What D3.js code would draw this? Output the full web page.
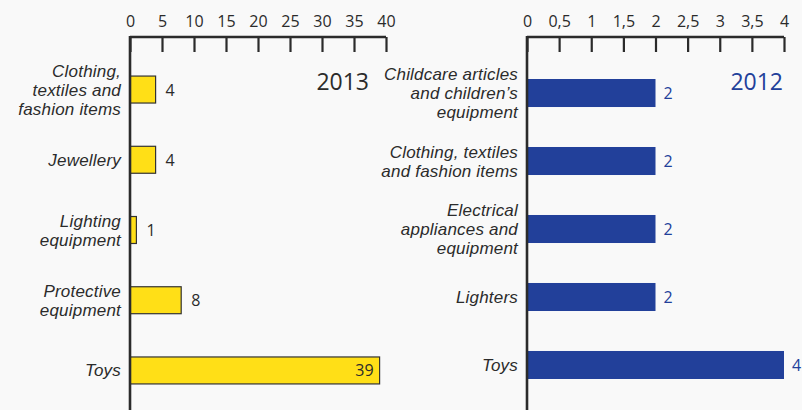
<!DOCTYPE html>
<html><head><meta charset="utf-8">
<script src="https://cdn.jsdelivr.net/npm/d3@7"></script>
<style>
html,body{margin:0;padding:0;background:#f9f9f9;}
svg{display:block;}
</style></head>
<body>
<svg id="c" width="802" height="410"></svg>
<script>
const categories2013 = ["Clothing,\ntextiles and\nfashion items","Jewellery","Lighting\nequipment","Protective\nequipment","Toys"];
const values2013 = [4,4,1,8,39];
const ticks2013 = [0,5,10,15,20,25,30,35,40];
const categories2012 = ["Childcare articles\nand children’s\nequipment","Clothing, textiles\nand fashion items","Electrical\nappliances and\nequipment","Lighters","Toys"];
const values2012 = [2,2,2,2,4];
const ticks2012 = [0,0.5,1,1.5,2,2.5,3,3.5,4];

const svg = d3.select("#c");
const axisColor = "#2b2b2b";
const mainFont = "'Open Sans', sans-serif";
const labelFont = "'Liberation Sans', Arial, sans-serif";

function panel(o){
  const g = svg.append("g");
  const x = d3.scaleLinear().domain(o.domain).range([o.x0, o.x1]);
  const y = d3.scaleBand().domain(o.cats).range(o.yr).paddingInner(o.pi).paddingOuter(0.3);
  g.selectAll("rect.bar").data(o.vals).enter().append("rect")
    .attr("x", x(0)).attr("y",(d,i)=>y(o.cats[i]))
    .attr("width", d=>x(d)-x(0)).attr("height", y.bandwidth())
    .attr("fill", o.fill).attr("stroke", o.stroke).attr("stroke-width", o.stroke==="none"?0:1.2);
  const ax = d3.axisTop(x).tickValues(o.ticks).tickSize(-15)
    .tickFormat(d=>String(d).replace(".",","));
  const axg = g.append("g").attr("transform",`translate(0,${o.axisY})`).call(ax);
  axg.select(".domain").attr("d",`M${o.x0},0H${o.x1}`).attr("stroke",axisColor).attr("stroke-width",2.4);
  axg.selectAll(".tick line").attr("stroke",axisColor).attr("stroke-width",2.2);
  axg.selectAll(".tick text").attr("y",-10).attr("dy",0).attr("fill","#2b2b2b")
    .style("font-size","16px").style("font-family",mainFont);
  g.append("line").attr("x1",x(0)).attr("x2",x(0)).attr("y1",o.axisY-1).attr("y2",410)
    .attr("stroke",axisColor).attr("stroke-width",2.6);
  o.cats.forEach((c,i)=>{
    const lines = c.split("\n");
    const cy = y(c) + y.bandwidth()/2;
    const lh = 19;
    lines.forEach((l,j)=>{
      g.append("text").attr("text-anchor","end")
        .style("font-style","italic").style("font-family",labelFont).style("font-size","17px")
        .attr("letter-spacing",0.2)
        .attr("fill","#2b2b2b")
        .attr("x", x(0)-9).attr("y", cy + (j-(lines.length-1)/2)*lh + 6).text(l);
    });
  });
  o.vals.forEach((v,i)=>{
    const cy = y(o.cats[i]) + y.bandwidth()/2;
    const inside = o.inside && v === d3.max(o.vals);
    g.append("text").attr("x", inside ? x(v)-6 : x(v)+o.vOff).attr("y", cy+6)
      .attr("text-anchor", inside ? "end":"start")
      .style("font-size","16px").style("font-family",mainFont)
      .attr("fill",o.vcol).text(v);
  });
  g.append("text").attr("x",o.titleX).attr("y",90).attr("text-anchor","end")
    .style("font-size","23px").style("font-family",mainFont).attr("fill",o.tcol).text(o.title);
}

panel({cats:categories2013, vals:values2013, ticks:ticks2013, domain:[0,40], x0:130, x1:386,
  yr:[55,405], pi:0.616, axisY:37, fill:"#ffdf17", stroke:"#333", vcol:"#2b2b2b", vOff:10,
  inside:true, title:"2013", titleX:369, tcol:"#2b2b2b"});
panel({cats:categories2012, vals:values2012, ticks:ticks2012, domain:[0,4], x0:527, x1:784,
  yr:[58.6,399.4], pi:0.588, axisY:37, fill:"#22409a", stroke:"none", vcol:"#22409a", vOff:8,
  inside:false, title:"2012", titleX:783, tcol:"#22409a"});
</script>
</body></html>
